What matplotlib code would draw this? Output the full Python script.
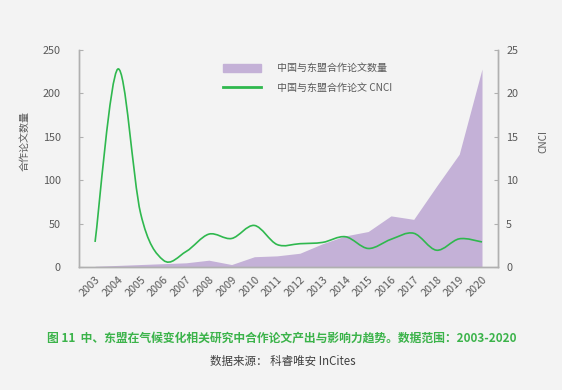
"""China-ASEAN climate research co-publications and CNCI, 2003-2020."""

import matplotlib

matplotlib.use("Agg")

import matplotlib.pyplot as plt
import numpy as np
from matplotlib.patches import PathPatch
from matplotlib.path import Path

plt.rcParams["font.family"] = ["Noto Sans CJK SC", "DejaVu Sans"]

years = [str(y) for y in range(2003, 2021)]
paper_counts = [1, 2, 3, 4, 5, 8, 3, 12, 13, 16, 27, 36, 41, 59, 55, 93, 130, 228]
cnci = [2.9, 22.8, 6.2, 0.8, 1.8, 3.8, 3.3, 4.8, 2.6, 2.7, 2.85, 3.5, 2.15, 3.2, 3.9, 1.95, 3.26, 2.9]

count_label = "中国与东盟合作论文数量"
cnci_label = "中国与东盟合作论文 CNCI"
caption = "图 11  中、东盟在气候变化相关研究中合作论文产出与影响力趋势。数据范围：2003-2020"
source = "数据来源： 科睿唯安 InCites"

BG = "#f3f3f3"
PURPLE = "#c4b1d7"
GREEN = "#2fb84e"
TEXT = "#595959"
SPINE = "#b0b0b0"


def smooth_path(xs, ys):
    """Catmull-Rom style bezier path through the points (like a smoothed line)."""
    pts = np.column_stack([xs, ys]).astype(float)
    n = len(pts)
    verts = [pts[0]]
    codes = [Path.MOVETO]
    for i in range(n - 1):
        p0 = pts[i - 1] if i > 0 else pts[i]
        p1 = pts[i]
        p2 = pts[i + 1]
        p3 = pts[i + 2] if i + 2 < n else pts[i + 1]
        c1 = p1 + (p2 - p0) / 6.0
        c2 = p2 - (p3 - p1) / 6.0
        verts.extend([c1, c2, p2])
        codes.extend([Path.CURVE4] * 3)
    return Path(verts, codes)


fig = plt.figure(figsize=(5.62, 3.9), dpi=100, facecolor=BG)
ax = fig.add_axes([0.140, 0.315, 0.746, 0.557])
ax.set_facecolor(BG)
x = np.arange(len(years))

ax.fill_between(x, paper_counts, 0, color=PURPLE, linewidth=0, label=count_label)
ax.set_xlim(-0.72, len(years) - 1 + 0.70)
ax.set_ylim(0, 250)
ax.set_yticks(range(0, 251, 50))
ax.set_xticks(x)
ax.set_xticklabels(years, rotation=45, ha="right", va="top", rotation_mode="anchor")
ax.tick_params(axis="x", length=0, pad=5, labelsize=7.8, labelcolor=TEXT)
ax.tick_params(axis="y", direction="in", length=3, color=SPINE, pad=13,
               labelsize=7.8, labelcolor=TEXT)
ax.set_ylabel("合作论文数量", fontsize=7.2, color=TEXT)
ax.yaxis.set_label_coords(-0.118, 0.58)

ax2 = ax.twinx()
patch = PathPatch(smooth_path(x, cnci), facecolor="none", edgecolor=GREEN,
                  linewidth=1.2, transform=ax2.transData)
ax2.add_patch(patch)
ax2.set_ylim(0, 25)
ax2.set_yticks(range(0, 26, 5))
ax2.tick_params(axis="y", direction="in", length=3, color=SPINE, pad=6,
                labelsize=7.8, labelcolor=TEXT)
ax2.set_ylabel("CNCI", fontsize=7.2, color=TEXT, rotation=90)
ax2.yaxis.set_label_coords(1.097, 0.58)

for a in (ax, ax2):
    a.spines["top"].set_visible(False)
    for side in ("left", "right", "bottom"):
        a.spines[side].set_color(SPINE)
        a.spines[side].set_linewidth(1.0)

handles = [
    plt.Rectangle((0, 0), 1, 1, color=PURPLE),
    plt.Line2D([0], [0], color=GREEN, linewidth=2),
]
ax.legend(handles, [count_label, cnci_label], loc="upper center",
          bbox_to_anchor=(0.545, 0.98), frameon=False, fontsize=7.2,
          labelcolor=TEXT, handlelength=3.8, handleheight=0.9,
          handletextpad=1.6, labelspacing=1.0)

fig.text(0.502, 0.133, caption, ha="center", va="center", fontsize=8.5,
         fontweight="bold", color="#3bb34a")
fig.text(0.504, 0.072, source, ha="center", va="center", fontsize=8.3,
         color="#404040")

fig.savefig("out.png", dpi=100, facecolor=BG)
